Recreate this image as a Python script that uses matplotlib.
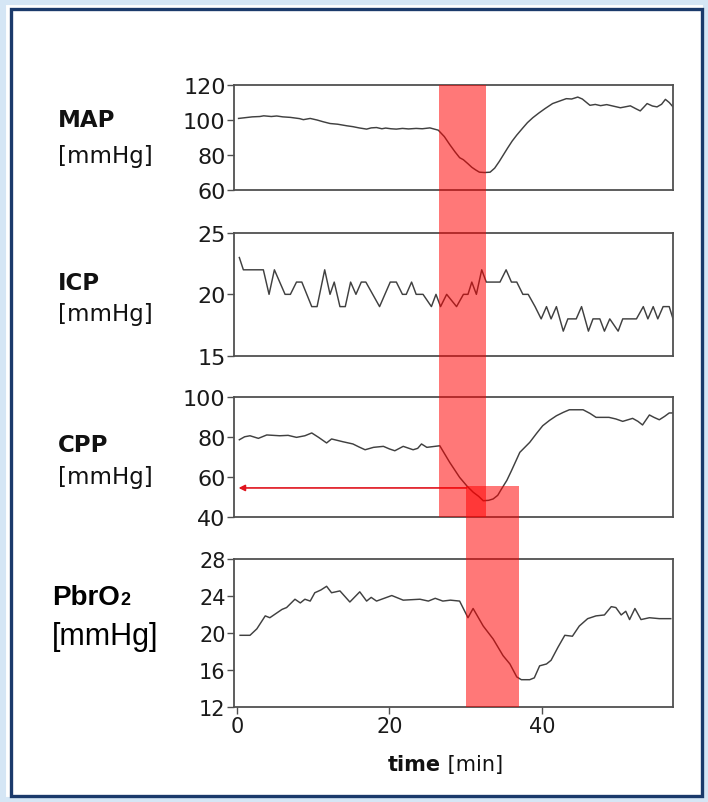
import matplotlib
matplotlib.use('Agg')
import matplotlib.pyplot as plt
from matplotlib.patches import Rectangle
import matplotlib.transforms as mtransforms

# ---------------- data ----------------
map_t = [0.2, 1.0, 2.0, 3.0, 3.5, 4.5, 5.2, 6.0, 7.0, 8.2, 8.7, 9.6, 10.5, 11.3, 12.2, 13.2, 14.4,
         15.2, 16.0, 17.0, 17.6, 18.3, 19.0, 19.5, 20.2, 20.9, 21.7, 22.5, 23.5, 24.3, 25.3, 26.4,
         27.2, 27.9, 28.6, 29.2, 29.7, 30.3, 30.8, 31.3, 31.8, 32.5, 33.2, 33.8, 34.4, 35.0, 35.5,
         36.1, 36.7, 37.5, 38.1, 38.8, 39.6, 40.4, 41.4, 42.3, 43.2, 43.9, 44.7, 45.3, 46.3, 47.0,
         47.7, 48.5, 49.3, 50.3, 50.9, 51.6, 52.3, 52.9, 53.4, 53.8, 54.5, 55.1, 55.7, 56.2, 56.7, 57.2]
map_v = [100.9, 101.3, 101.8, 102.0, 102.4, 102.0, 102.3, 101.8, 101.5, 100.8, 100.2, 100.9, 100.0, 99.0, 98.0,
         97.6, 96.7, 96.2, 95.5, 94.8, 95.5, 95.7, 95.0, 95.4, 95.0, 94.8, 95.2, 94.9, 95.2, 95.0, 95.5, 94.2,
         90.5, 86.0, 81.8, 78.5, 77.3, 75.0, 73.0, 71.5, 70.2, 70.0, 70.2, 72.5, 76.3, 80.5, 84.0,
         88.0, 91.4, 95.5, 98.5, 101.3, 104.0, 106.5, 109.4, 110.8, 112.2, 112.0, 113.1, 112.0, 108.4, 108.9,
         108.2, 108.8, 108.0, 107.0, 107.5, 108.1, 106.5, 105.2, 107.5, 109.4, 108.0, 107.5, 109.0, 111.8, 110.0, 107.5]

icp_t = [0.3, 0.83, 3.45, 4.2, 4.9, 6.3, 7.0, 7.8, 8.5, 9.8, 10.5, 11.5, 12.2, 12.75, 13.5, 14.2, 14.9,
         15.6, 16.3, 16.9, 18.7, 20.1, 20.9, 21.7, 22.2, 22.9, 23.5, 24.4, 25.5, 26.1, 26.7, 27.5, 28.8,
         29.7, 30.3, 30.8, 31.4, 32.1, 32.7, 34.5, 35.3, 36.0, 36.7, 37.5, 38.2, 39.1, 39.9, 40.6, 41.2,
         41.9, 42.8, 43.4, 44.5, 45.2, 46.1, 46.7, 47.6, 48.2, 48.9, 50.0, 50.6, 52.4, 53.3, 53.9, 54.6,
         55.2, 55.9, 56.7, 57.2]
icp_v = [23, 22, 22, 20, 22, 20, 20, 21, 21, 19, 19, 22, 20, 21, 19, 19, 21,
         20, 21, 21, 19, 21, 21, 20, 20, 21, 20, 20, 19, 20, 19, 20, 19,
         20, 20, 21, 20, 22, 21, 21, 22, 21, 21, 20, 20, 19, 18, 19, 18,
         19, 17, 18, 18, 19, 17, 18, 18, 17, 18, 17, 18, 18, 19, 18, 19,
         18, 19, 19, 18]

cpp_t = [0.3, 1.0, 1.7, 2.8, 3.9, 5.6, 6.7, 7.8, 8.9, 9.8, 10.7, 11.75, 12.4, 13.9, 15.2, 16.0, 16.8,
         17.9, 19.2, 20.0, 20.7, 21.8, 23.1, 23.7, 24.2, 24.9, 26.6, 27.9, 29.2, 30.2, 31.0, 31.7,
         32.3, 33.0, 33.6, 34.2, 34.7, 35.4, 36.0, 37.1, 38.4, 39.3, 40.1, 41.0, 41.9, 42.8, 43.6,
         45.4, 46.3, 47.1, 48.8, 49.7, 50.6, 51.9, 52.6, 53.2, 54.1, 54.7, 55.4, 56.1, 56.7, 57.2]
cpp_v = [78.8, 80.3, 80.8, 79.5, 81.2, 80.8, 81.0, 80.0, 80.8, 82.2, 80.0, 77.2, 79.2, 77.8, 76.7, 75.2, 73.8,
         75.0, 75.5, 74.2, 73.3, 75.5, 73.8, 74.5, 76.7, 75.0, 75.8, 67.5, 60.0, 55.5, 52.5, 50.5,
         48.3, 48.5, 49.2, 51.0, 54.2, 58.5, 63.3, 72.5, 77.5, 82.0, 85.8, 88.5, 90.8, 92.5, 93.8,
         93.8, 92.0, 90.0, 90.0, 89.2, 88.0, 89.5, 88.0, 86.2, 91.2, 90.0, 88.8, 90.5, 92.2, 92.2]

pbr_t = [0.4, 1.7, 2.6, 3.7, 4.3, 5.9, 6.5, 7.6, 8.3, 8.9, 9.6, 10.2, 11.0, 11.75, 12.4, 13.5, 14.8,
         16.1, 17.0, 17.6, 18.3, 20.3, 21.8, 24.0, 25.1, 26.0, 27.0, 28.0, 29.2, 30.3, 30.97, 32.3,
         33.6, 34.9, 35.8, 36.7, 37.3, 38.4, 39.0, 39.7, 40.6, 41.2, 42.1, 43.0, 44.0, 44.9, 46.0,
         47.1, 48.2, 49.1, 49.7, 50.4, 51.0, 51.5, 52.2, 53.0, 54.1, 55.4, 56.9]
pbr_v = [19.7, 19.7, 20.4, 21.8, 21.6, 22.5, 22.7, 23.6, 23.2, 23.6, 23.4, 24.3, 24.6, 25.0, 24.3, 24.5, 23.3,
         24.4, 23.4, 23.8, 23.4, 24.0, 23.5, 23.6, 23.4, 23.7, 23.4, 23.5, 23.4, 21.6, 22.6, 20.7,
         19.3, 17.5, 16.6, 15.2, 14.9, 14.9, 15.1, 16.4, 16.6, 17.0, 18.4, 19.7, 19.6, 20.7, 21.5,
         21.8, 21.9, 22.8, 22.7, 21.9, 22.3, 21.4, 22.6, 21.4, 21.6, 21.5, 21.5]

panel_names = ["MAP", "ICP", "CPP"]
unit_label = "[mmHg]"
map_ticks = [60, 80, 100, 120]
icp_ticks = [15, 20, 25]
cpp_ticks = [40, 60, 80, 100]
pbr_ticks = [12, 16, 20, 24, 28]
time_ticks = [0, 20, 40]
band1 = (26.5, 32.6)   # minutes
band2 = (30.1, 37.0)   # minutes
cpp_threshold = 55.5   # mmHg (top of band 2 / arrow level)

# ---------------- figure ----------------
W_PX, H_PX = 708, 803
fig = plt.figure(figsize=(W_PX / 100, H_PX / 100), dpi=100)
fig.patch.set_facecolor('white')

L, Wd = 0.3305, 0.6201
ax_map = fig.add_axes([L, 0.7621, Wd, 0.1308])
ax_icp = fig.add_axes([L, 0.5558, Wd, 0.1528])
ax_cpp = fig.add_axes([L, 0.3545, Wd, 0.1494])
ax_pbr = fig.add_axes([L, 0.1189, Wd, 0.1843])

line_col = '#404040'
spine_col = '#505050'
specs = [
    (ax_map, map_t, map_v, (60, 120), map_ticks),
    (ax_icp, icp_t, icp_v, (15, 25), icp_ticks),
    (ax_cpp, cpp_t, cpp_v, (40, 100), cpp_ticks),
    (ax_pbr, pbr_t, pbr_v, (12, 28), pbr_ticks),
]
for ax, t, v, yl, yt in specs:
    ax.plot(t, v, color=line_col, lw=1.05)
    ax.set_xlim(-0.4, 57.2)
    ax.set_ylim(*yl)
    ax.set_yticks(yt)
    for s in ax.spines.values():
        s.set_color(spine_col)
        s.set_linewidth(1.3)
    ax.tick_params(axis='y', direction='out', length=5, width=1, color=spine_col,
                   labelsize=16, pad=1, labelcolor='#1a1a1a')
    for lab in ax.get_yticklabels():
        lab.set_fontfamily('DejaVu Sans')
    if ax is not ax_pbr:
        ax.set_xticks([])

ax_pbr.set_xticks(time_ticks)
ax_pbr.tick_params(axis='x', direction='out', length=5, width=1, color=spine_col,
                   labelsize=16, pad=2, labelcolor='#1a1a1a')
for lab in ax_pbr.get_yticklabels() + ax_pbr.get_xticklabels():
    lab.set_fontsize(15)

# arrow on CPP panel
ax_cpp.annotate('', xy=(0.2, cpp_threshold - 0.8), xytext=(band2[0], cpp_threshold - 0.8),
                arrowprops=dict(arrowstyle='-|>', color='#e0141e', lw=1.2,
                                mutation_scale=9, shrinkA=0, shrinkB=0),
                annotation_clip=False)

# red bands across panels
def fig_y(ax, val):
    disp = ax.transData.transform((0, val))
    return fig.transFigure.inverted().transform(disp)[1]

blend = mtransforms.blended_transform_factory(ax_pbr.transData, fig.transFigure)
y0 = fig_y(ax_cpp, 40); y1 = fig_y(ax_map, 120)
fig.add_artist(Rectangle((band1[0], y0), band1[1] - band1[0], y1 - y0, transform=blend,
                         facecolor='red', alpha=0.53, lw=0, zorder=5))
y0 = fig_y(ax_pbr, 12); y1 = fig_y(ax_cpp, cpp_threshold)
fig.add_artist(Rectangle((band2[0], y0), band2[1] - band2[0], y1 - y0, transform=blend,
                         facecolor='red', alpha=0.53, lw=0, zorder=5))

# panel labels
def ftext(x, y, s, **kw):
    return fig.text(x / W_PX, 1 - y / H_PX, s, **kw)

label_y = [(121, 156), (283, 315), (446, 478)]
for name, (yn, yu) in zip(panel_names, label_y):
    ftext(58, yn, name, fontsize=16.5, fontweight='bold', family='DejaVu Sans', va='center', color='#111111')
    ftext(58, yu, unit_label, fontsize=16.5, family='DejaVu Sans', va='center', color='#111111')

t1 = ftext(52, 611, "PbrO", fontsize=20, fontweight='bold', family='Liberation Sans', va='bottom', color='black')
ax_pbr.annotate("2", xy=(1, 0), xycoords=t1, xytext=(0.5, 1.5), textcoords='offset points',
                fontsize=13, fontweight='bold', family='Liberation Sans', va='bottom', ha='left',
                color='black', annotation_clip=False)
ftext(52, 637, unit_label, fontsize=22, family='Liberation Sans', va='center', color='black')

tt = ftext(388, 765, "time", fontsize=15, fontweight='bold', family='DejaVu Sans', va='center', ha='left', color='#111111')
ax_pbr.annotate(" [min]", xy=(1, 0.5), xycoords=tt, va='center', ha='left', fontsize=15,
                family='DejaVu Sans', color='#111111', annotation_clip=False)

# frame
fig.add_artist(Rectangle((0, 0), 1, 1, transform=fig.transFigure, fill=False,
                         edgecolor='#d5e6f5', lw=8, zorder=10))
fig.add_artist(Rectangle((11 / W_PX, 1 - 797 / H_PX), (702 - 11) / W_PX, (797 - 10) / H_PX,
                         transform=fig.transFigure, fill=False, edgecolor='#1b3a6b', lw=2.4, zorder=11))

fig.savefig('out.png', dpi=100, facecolor='white')
